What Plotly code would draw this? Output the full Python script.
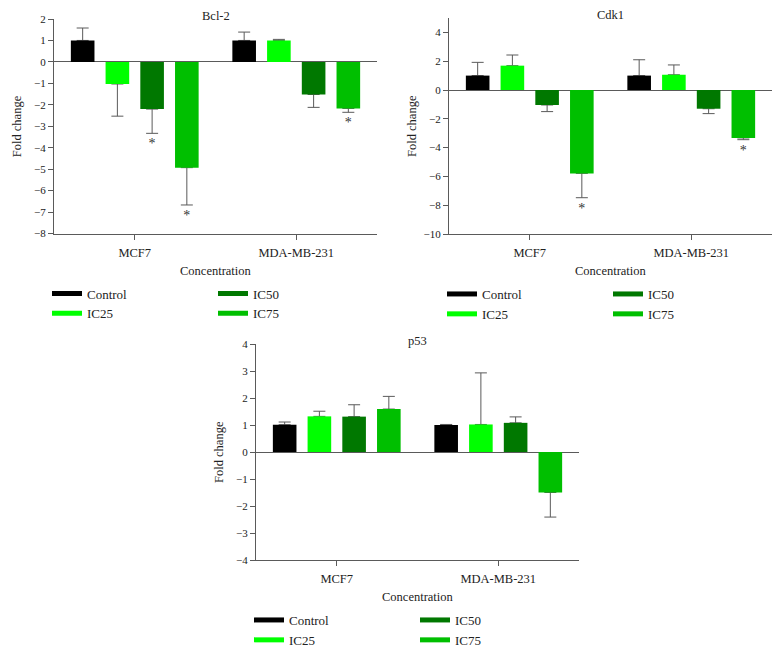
import plotly.graph_objects as go

W, H = 782, 648
OFF = 8  # the page puts the figure 8px in from the top-left corner
FW, FH = W - OFF, H - OFF

# data
cells = ['MCF7', 'MDA-MB-231']
concs = ['Control', 'IC25', 'IC50', 'IC75']
colors = ['#000000', '#00ff00', '#007800', '#00bf00']

# rows = concentration, cols = cell line
bcl2_mean = [[1.0, 1.0], [-1.03, 1.0], [-2.2, -1.52], [-4.93, -2.17]]
bcl2_err = [[0.58, 0.39], [1.5, 0.05], [1.13, 0.6], [1.74, 0.18]]
bcl2_sig = [[0, 0], [0, 0], [1, 0], [1, 1]]

cdk1_mean = [[1.0, 1.0], [1.69, 1.06], [-1.04, -1.3], [-5.79, -3.33]]
cdk1_err = [[0.92, 1.1], [0.74, 0.68], [0.46, 0.34], [1.69, 0.12]]
cdk1_sig = [[0, 0], [0, 0], [0, 0], [1, 1]]

p53_mean = [[1.01, 1.0], [1.32, 1.02], [1.31, 1.08], [1.59, -1.5]]
p53_err = [[0.1, 0.02], [0.19, 1.91], [0.44, 0.22], [0.47, 0.91]]
p53_sig = [[0, 0], [0, 0], [0, 0], [0, 0]]

FONT = 'Liberation Serif, Times New Roman, serif'
TXT = '#222222'
AX = '#5a5a5a'


def px(x):
    return (x - OFF) / FW


def py(y):
    return 1 - (y - OFF) / FH


# panel geometry in page pixels: x0, x1 (plot left/right), ytop, ybottom
panels = [
    ('Bcl-2', bcl2_mean, bcl2_err, bcl2_sig, '', 54, 377, 19, 233.5, [-8, 2], 1, ('legend', 'legend2')),
    ('Cdk1', cdk1_mean, cdk1_err, cdk1_sig, '2', 449, 772, 18, 234, [-10, 5], 2, ('legend3', 'legend4')),
    ('p53', p53_mean, p53_err, p53_sig, '3', 256, 579, 344, 560, [-4, 4], 1, ('legend5', 'legend6')),
]

fig = go.Figure()
annotations = []

for title, mean, err, sig, sfx, x0, x1, yt, yb, yr, dt, legs in panels:
    xa, ya = 'x' + sfx, 'y' + sfx
    # error bars (drawn first so the visible bars hide the inner caps)
    for i, c in enumerate(concs):
        plus = [e if m >= 0 else 0 for m, e in zip(mean[i], err[i])]
        minus = [e if m < 0 else 0 for m, e in zip(mean[i], err[i])]
        fig.add_trace(go.Bar(
            x=cells, y=mean[i], xaxis=xa, yaxis=ya, offsetgroup=c,
            marker=dict(color='rgba(0,0,0,0)', line=dict(width=0)),
            error_y=dict(type='data', symmetric=False, array=plus, arrayminus=minus,
                         color=AX, thickness=1, width=6),
            showlegend=False, hoverinfo='skip'))
    # bars
    for i, c in enumerate(concs):
        fig.add_trace(go.Bar(
            x=cells, y=mean[i], xaxis=xa, yaxis=ya, offsetgroup=c, name=c,
            marker=dict(color=colors[i], line=dict(width=0)),
            showlegend=False))
    # significance stars just past the error bar tip
    for i, c in enumerate(concs):
        tips = [(m - e if m < 0 else m + e) if s else None
                for m, e, s in zip(mean[i], err[i], sig[i])]
        fig.add_trace(go.Bar(
            x=cells, y=tips, xaxis=xa, yaxis=ya, offsetgroup=c,
            marker=dict(color='rgba(0,0,0,0)', line=dict(width=0)),
            text=['*' if s else '' for s in sig[i]], textposition='outside',
            textfont=dict(family=FONT, size=14, color='#333333'),
            outsidetextfont=dict(family=FONT, size=14, color='#333333'),
            cliponaxis=False, showlegend=False, hoverinfo='skip'))
    # legend entries
    for i, c in enumerate(concs):
        fig.add_trace(go.Scatter(
            x=[None], y=[None], xaxis=xa, yaxis=ya, mode='lines', name=c,
            line=dict(color=colors[i], width=5),
            legend=legs[0] if i < 2 else legs[1]))

    fig.update_layout({
        'xaxis' + sfx: dict(domain=[px(x0), px(x1)], anchor=ya, type='category',
                            range=[-0.5, 1.5], showline=True, linecolor=AX, linewidth=1,
                            ticks='outside', ticklen=5, tickcolor=AX, showgrid=False,
                            zeroline=False, ticklabelstandoff=2,
                            tickfont=dict(family=FONT, size=12.5, color=TXT)),
        'yaxis' + sfx: dict(domain=[py(yb), py(yt)], anchor=xa, range=yr,
                            dtick=dt, tick0=0, showline=True, linecolor=AX, linewidth=1,
                            ticks='outside', ticklen=5, tickcolor=AX, showgrid=False,
                            zeroline=True, zerolinecolor=AX, zerolinewidth=1,
                            tickfont=dict(family=FONT, size=11, color=TXT)),
    })

    annotations += [
        dict(text=title, x=px((x0 + x1) / 2), y=py(yt - 3), xref='paper', yref='paper',
             xanchor='center', yanchor='middle', showarrow=False,
             font=dict(family=FONT, size=12.5, color=TXT)),
        dict(text='Fold change', x=px(x0 - 37), y=py((yt + yb) / 2),
             xref='paper', yref='paper', textangle=-90, xanchor='center',
             yanchor='middle', showarrow=False, borderpad=0,
             font=dict(family=FONT, size=12.5, color=TXT)),
        dict(text='Concentration', x=px((x0 + x1) / 2), y=py(yb + 37),
             xref='paper', yref='paper', xanchor='center', yanchor='middle',
             showarrow=False, font=dict(family=FONT, size=12.5, color=TXT)),
    ]

    for k, leg in enumerate(legs):
        fig.update_layout({leg: dict(
            x=px(x0 - 7 + 166 * k), y=py(yb + 45), xanchor='left', yanchor='top',
            bgcolor='rgba(0,0,0,0)', borderwidth=0, tracegroupgap=0,
            font=dict(family=FONT, size=13, color=TXT))})

fig.update_layout(
    width=FW, height=FH,
    margin=dict(l=0, r=0, t=0, b=0, autoexpand=False),
    paper_bgcolor='white', plot_bgcolor='white',
    barmode='group', bargap=0.14, bargroupgap=0.32,
    annotations=annotations,
    font=dict(family=FONT, color=TXT),
)

fig.write_html("out.html")
